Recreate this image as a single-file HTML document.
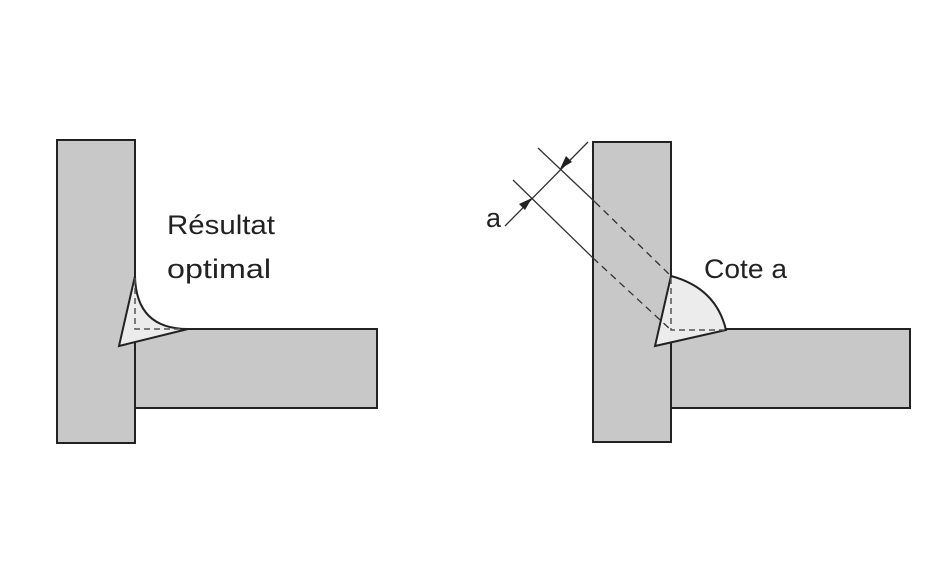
<!DOCTYPE html>
<html><head><style>body{margin:0;background:#fff}</style></head><body>
<svg width="951" height="576" viewBox="0 0 951 576" xmlns="http://www.w3.org/2000/svg" font-family="Liberation Sans, sans-serif">
<g stroke="#222" stroke-width="2">
<rect x="57" y="140" width="78" height="303" fill="#c8c8c8"/>
<rect x="135" y="329" width="242" height="79" fill="#c8c8c8"/>
<path d="M135,276 Q136,329 188,329 L119,346 Z" fill="#ececec"/>
<path d="M135,278 V329 H184" fill="none" stroke-width="1.5" stroke-dasharray="6,4" stroke="#555"/>

<rect x="593" y="142" width="78" height="300" fill="#c8c8c8"/>
<rect x="671" y="329" width="239" height="79" fill="#c8c8c8"/>
<path d="M671,276 Q716,288 726,330 L655,346 Z" fill="#ececec"/>
<path d="M671,278 V330 H724" fill="none" stroke-width="1.5" stroke-dasharray="6,4" stroke="#555"/>
</g>
<g stroke="#333" stroke-width="1.3" fill="none">
<line x1="538" y1="148" x2="595" y2="202"/>
<line x1="595" y1="202" x2="671" y2="276" stroke-dasharray="7,5"/>
<line x1="513" y1="180" x2="593" y2="258"/>
<line x1="593" y1="258" x2="671" y2="330" stroke-dasharray="7,5"/>
<line x1="505" y1="226" x2="588" y2="142"/>
</g>
<g fill="#222">
<polygon points="560,169 566,156 572,162"/>
<polygon points="532,198 519,204 525,210"/>
</g>
<g font-size="27" fill="#222">
<text x="167" y="234" textLength="108" lengthAdjust="spacingAndGlyphs">Résultat</text>
<text x="167" y="278" textLength="104" lengthAdjust="spacingAndGlyphs">optimal</text>
<text x="704" y="278" textLength="83" lengthAdjust="spacingAndGlyphs">Cote a</text>
<text x="486" y="227">a</text>
</g>
</svg>
</body></html>
